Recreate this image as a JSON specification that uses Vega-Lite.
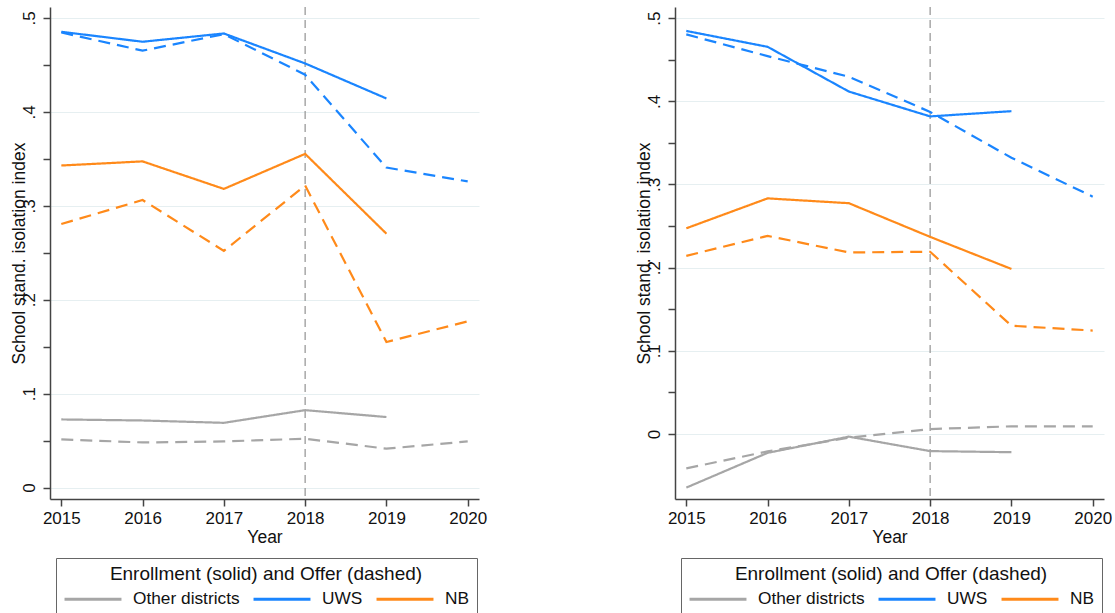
{
  "$schema": "https://vega.github.io/schema/vega-lite/v6.json",
  "padding": {"left": 9, "top": 6, "right": 0, "bottom": 0},
  "spacing": 147,
  "background": "white",
  "config": {
    "font": "Liberation Sans",
    "view": {"stroke": null},
    "axis": {
      "domainColor": "#444444", "domainWidth": 1.5,
      "tickColor": "#444444", "tickWidth": 1.5, "tickSize": 7,
      "labelFont": "Liberation Sans", "labelFontSize": 17, "labelColor": "#111111",
      "titleFont": "Liberation Sans", "titleFontSize": 17.5, "titleFontWeight": "normal", "titleColor": "#111111",
      "gridColor": "#E6EFF1", "gridWidth": 1.2
    },
    "legend": {
      "titleFont": "Liberation Sans", "titleFontSize": 19, "titleFontWeight": "normal", "titleColor": "#111111",
      "labelFont": "Liberation Sans", "labelFontSize": 17.3, "labelColor": "#111111",
      "symbolType": "M-3.35,0H3.35", "symbolSize": 289, "symbolStrokeWidth": 3,
      "symbolOffset": 20, "labelOffset": 30, "columnPadding": 7, "padding": 7, "strokeColor": "#666666",
      "titleAnchor": "middle", "titleAlign": "center", "titleLimit": 600, "labelLimit": 300,
      "direction": "horizontal", "columns": 3, "titlePadding": 5, "rowPadding": 0
    }
  },
  "datasets": {
    "d": [
      {"p": "A", "year": 2015, "group": "UWS", "type": "Enrollment", "v": 0.4853},
      {"p": "A", "year": 2016, "group": "UWS", "type": "Enrollment", "v": 0.4747},
      {"p": "A", "year": 2017, "group": "UWS", "type": "Enrollment", "v": 0.4835},
      {"p": "A", "year": 2018, "group": "UWS", "type": "Enrollment", "v": 0.4516},
      {"p": "A", "year": 2019, "group": "UWS", "type": "Enrollment", "v": 0.4143},
      {"p": "A", "year": 2015, "group": "UWS", "type": "Offer", "v": 0.4846},
      {"p": "A", "year": 2016, "group": "UWS", "type": "Offer", "v": 0.4652},
      {"p": "A", "year": 2017, "group": "UWS", "type": "Offer", "v": 0.4828},
      {"p": "A", "year": 2018, "group": "UWS", "type": "Offer", "v": 0.4396},
      {"p": "A", "year": 2019, "group": "UWS", "type": "Offer", "v": 0.3407},
      {"p": "A", "year": 2020, "group": "UWS", "type": "Offer", "v": 0.326},
      {"p": "A", "year": 2015, "group": "NB", "type": "Enrollment", "v": 0.3429},
      {"p": "A", "year": 2016, "group": "NB", "type": "Enrollment", "v": 0.3473},
      {"p": "A", "year": 2017, "group": "NB", "type": "Enrollment", "v": 0.318},
      {"p": "A", "year": 2018, "group": "NB", "type": "Enrollment", "v": 0.3553},
      {"p": "A", "year": 2019, "group": "NB", "type": "Enrollment", "v": 0.2703},
      {"p": "A", "year": 2015, "group": "NB", "type": "Offer", "v": 0.2806},
      {"p": "A", "year": 2016, "group": "NB", "type": "Offer", "v": 0.3062},
      {"p": "A", "year": 2017, "group": "NB", "type": "Offer", "v": 0.252},
      {"p": "A", "year": 2018, "group": "NB", "type": "Offer", "v": 0.3216},
      {"p": "A", "year": 2019, "group": "NB", "type": "Offer", "v": 0.155},
      {"p": "A", "year": 2020, "group": "NB", "type": "Offer", "v": 0.1769},
      {"p": "A", "year": 2015, "group": "Other districts", "type": "Enrollment", "v": 0.0725},
      {"p": "A", "year": 2016, "group": "Other districts", "type": "Enrollment", "v": 0.0714},
      {"p": "A", "year": 2017, "group": "Other districts", "type": "Enrollment", "v": 0.0689},
      {"p": "A", "year": 2018, "group": "Other districts", "type": "Enrollment", "v": 0.0824},
      {"p": "A", "year": 2019, "group": "Other districts", "type": "Enrollment", "v": 0.0751},
      {"p": "A", "year": 2015, "group": "Other districts", "type": "Offer", "v": 0.0513},
      {"p": "A", "year": 2016, "group": "Other districts", "type": "Offer", "v": 0.048},
      {"p": "A", "year": 2017, "group": "Other districts", "type": "Offer", "v": 0.0491},
      {"p": "A", "year": 2018, "group": "Other districts", "type": "Offer", "v": 0.052},
      {"p": "A", "year": 2019, "group": "Other districts", "type": "Offer", "v": 0.0414},
      {"p": "A", "year": 2020, "group": "Other districts", "type": "Offer", "v": 0.0491},
      {"p": "B", "year": 2015, "group": "UWS", "type": "Enrollment", "v": 0.4847},
      {"p": "B", "year": 2016, "group": "UWS", "type": "Enrollment", "v": 0.4656},
      {"p": "B", "year": 2017, "group": "UWS", "type": "Enrollment", "v": 0.4118},
      {"p": "B", "year": 2018, "group": "UWS", "type": "Enrollment", "v": 0.3819},
      {"p": "B", "year": 2019, "group": "UWS", "type": "Enrollment", "v": 0.3882},
      {"p": "B", "year": 2015, "group": "UWS", "type": "Offer", "v": 0.4805},
      {"p": "B", "year": 2016, "group": "UWS", "type": "Offer", "v": 0.4544},
      {"p": "B", "year": 2017, "group": "UWS", "type": "Offer", "v": 0.4296},
      {"p": "B", "year": 2018, "group": "UWS", "type": "Offer", "v": 0.3873},
      {"p": "B", "year": 2019, "group": "UWS", "type": "Offer", "v": 0.3322},
      {"p": "B", "year": 2020, "group": "UWS", "type": "Offer", "v": 0.2854},
      {"p": "B", "year": 2015, "group": "NB", "type": "Enrollment", "v": 0.2473},
      {"p": "B", "year": 2016, "group": "NB", "type": "Enrollment", "v": 0.2833},
      {"p": "B", "year": 2017, "group": "NB", "type": "Enrollment", "v": 0.2775},
      {"p": "B", "year": 2018, "group": "NB", "type": "Enrollment", "v": 0.237},
      {"p": "B", "year": 2019, "group": "NB", "type": "Enrollment", "v": 0.1984},
      {"p": "B", "year": 2015, "group": "NB", "type": "Offer", "v": 0.2142},
      {"p": "B", "year": 2016, "group": "NB", "type": "Offer", "v": 0.2382},
      {"p": "B", "year": 2017, "group": "NB", "type": "Offer", "v": 0.2183},
      {"p": "B", "year": 2018, "group": "NB", "type": "Offer", "v": 0.2191},
      {"p": "B", "year": 2019, "group": "NB", "type": "Offer", "v": 0.1301},
      {"p": "B", "year": 2020, "group": "NB", "type": "Offer", "v": 0.1243},
      {"p": "B", "year": 2015, "group": "Other districts", "type": "Enrollment", "v": -0.0646},
      {"p": "B", "year": 2016, "group": "Other districts", "type": "Enrollment", "v": -0.0228},
      {"p": "B", "year": 2017, "group": "Other districts", "type": "Enrollment", "v": -0.0033},
      {"p": "B", "year": 2018, "group": "Other districts", "type": "Enrollment", "v": -0.0207},
      {"p": "B", "year": 2019, "group": "Other districts", "type": "Enrollment", "v": -0.022},
      {"p": "B", "year": 2015, "group": "Other districts", "type": "Offer", "v": -0.0414},
      {"p": "B", "year": 2016, "group": "Other districts", "type": "Offer", "v": -0.0211},
      {"p": "B", "year": 2017, "group": "Other districts", "type": "Offer", "v": -0.0046},
      {"p": "B", "year": 2018, "group": "Other districts", "type": "Offer", "v": 0.0058},
      {"p": "B", "year": 2019, "group": "Other districts", "type": "Offer", "v": 0.0091},
      {"p": "B", "year": 2020, "group": "Other districts", "type": "Offer", "v": 0.0091}
    ]
  },
  "resolve": {
    "scale": {"x": "independent", "y": "independent", "color": "independent", "strokeDash": "independent"},
    "legend": {"color": "independent"}
  },
  "hconcat": [
    {
      "width": 429, "height": 492,
      "layer": [
        {
          "data": {"values": [{"year": 2018}]},
          "mark": {"type": "rule", "color": "#9a9a9a", "strokeDash": [8, 5], "strokeWidth": 1.3},
          "encoding": {"x": {"field": "year", "type": "quantitative"}}
        },
        {
          "data": {"name": "d"},
          "transform": [{"filter": "datum.p == 'A'"}],
          "mark": {"type": "line", "strokeWidth": 2.2},
          "encoding": {
            "x": {"field": "year", "type": "quantitative",
              "scale": {"domain": [2014.861, 2020.139], "nice": false, "zero": false},
              "axis": {"title": "Year", "values": [2015, 2016, 2017, 2018, 2019, 2020], "format": "d", "grid": false, "labelPadding": 4, "titlePadding": 2, "labelFlush": false, "labelOverlap": false}},
            "y": {"field": "v", "type": "quantitative",
              "scale": {"domain": [-0.0122, 0.5117], "nice": false, "zero": false},
              "axis": {"title": "School stand. isolation index", "values": [0, 0.05, 0.1, 0.15, 0.2, 0.25, 0.3, 0.35, 0.4, 0.45, 0.5],
                "labelAngle": -90, "labelAlign": "center", "labelBaseline": "bottom", "labelPadding": 5, "titlePadding": -8,
                "labelExpr": "round(datum.value*20) % 2 == 1 ? '' : (datum.value == 0 ? '0' : replace(format(datum.value, '.1f'), '0.', '.'))",
                "grid": true, "gridOpacity": {"condition": {"test": "round(datum.value*20) % 2 == 1", "value": 0}, "value": 1}, "labelOverlap": false}},
            "color": {"field": "group", "type": "nominal",
              "scale": {"domain": ["Other districts", "UWS", "NB"], "range": ["#A6A6A6", "#1A85FF", "#FF8A1A"]},
              "legend": {"title": "Enrollment (solid) and Offer (dashed)", "orient": "none", "legendX": 6, "legendY": 551}},
            "strokeDash": {"field": "type", "type": "nominal",
              "scale": {"domain": ["Enrollment", "Offer"], "range": [[1, 0], [12, 7]]}, "legend": null}
          }
        }
      ]
    },
    {
      "width": 429, "height": 492,
      "layer": [
        {
          "data": {"values": [{"year": 2018}]},
          "mark": {"type": "rule", "color": "#9a9a9a", "strokeDash": [8, 5], "strokeWidth": 1.3},
          "encoding": {"x": {"field": "year", "type": "quantitative"}}
        },
        {
          "data": {"name": "d"},
          "transform": [{"filter": "datum.p == 'B'"}],
          "mark": {"type": "line", "strokeWidth": 2.2},
          "encoding": {
            "x": {"field": "year", "type": "quantitative",
              "scale": {"domain": [2014.861, 2020.139], "nice": false, "zero": false},
              "axis": {"title": "Year", "values": [2015, 2016, 2017, 2018, 2019, 2020], "format": "d", "grid": false, "labelPadding": 4, "titlePadding": 2, "labelFlush": false, "labelOverlap": false}},
            "y": {"field": "v", "type": "quantitative",
              "scale": {"domain": [-0.0783, 0.5135], "nice": false, "zero": false},
              "axis": {"title": "School stand. isolation index", "values": [0, 0.05, 0.1, 0.15, 0.2, 0.25, 0.3, 0.35, 0.4, 0.45, 0.5],
                "labelAngle": -90, "labelAlign": "center", "labelBaseline": "bottom", "labelPadding": 5, "titlePadding": -8,
                "labelExpr": "round(datum.value*20) % 2 == 1 ? '' : (datum.value == 0 ? '0' : replace(format(datum.value, '.1f'), '0.', '.'))",
                "grid": true, "gridOpacity": {"condition": {"test": "round(datum.value*20) % 2 == 1", "value": 0}, "value": 1}, "labelOverlap": false}},
            "color": {"field": "group", "type": "nominal",
              "scale": {"domain": ["Other districts", "UWS", "NB"], "range": ["#A6A6A6", "#1A85FF", "#FF8A1A"]},
              "legend": {"title": "Enrollment (solid) and Offer (dashed)", "orient": "none", "legendX": 6, "legendY": 551}},
            "strokeDash": {"field": "type", "type": "nominal",
              "scale": {"domain": ["Enrollment", "Offer"], "range": [[1, 0], [12, 7]]}, "legend": null}
          }
        }
      ]
    }
  ]
}
